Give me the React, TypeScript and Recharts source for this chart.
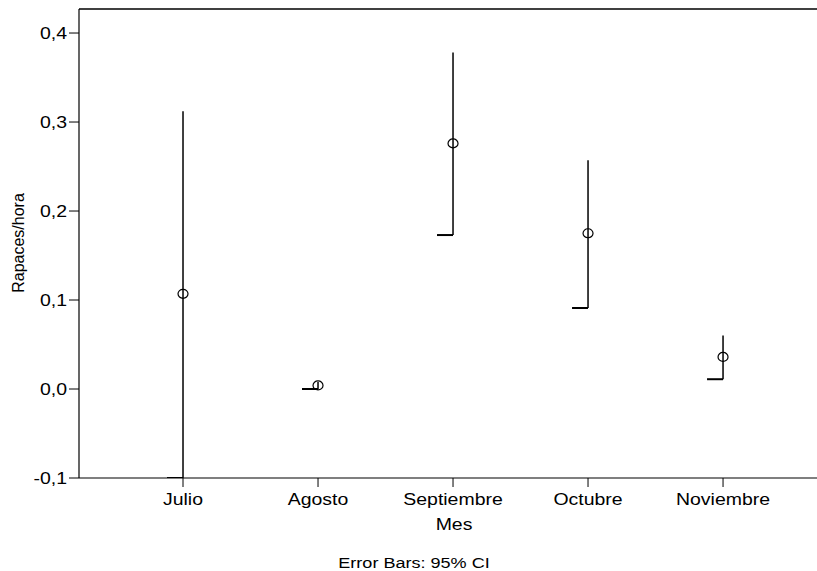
import { ScatterChart, Scatter, XAxis, YAxis, ErrorBar, Label } from 'recharts';

const months = ['Julio', 'Agosto', 'Septiembre', 'Octubre', 'Noviembre'];
const means = [0.107, 0.004, 0.276, 0.175, 0.036];
const lowers = [-0.1, 0.0, 0.173, 0.091, 0.011];
const uppers = [0.312, 0.008, 0.378, 0.257, 0.06];
const yTicks = [-0.1, 0, 0.1, 0.2, 0.3, 0.4];
const xTicks = [1, 2, 3, 4, 5];

const meanPts = months.map((_, i) => ({
  x: xTicks[i],
  y: means[i],
  err: [means[i] - lowers[i], uppers[i] - means[i]],
}));
const capPts = months.map((_, i) => ({ x: xTicks[i], y: lowers[i] }));

const W = 817;
const H = 571;
const FONT = '"Liberation Sans", Arial, sans-serif';
const SX = 1.18;
const X_DOMAIN = [0.2296, 5.696];
const fmt = (v: number) => v.toFixed(1).replace('.', ',');

const YTick = ({ x, y, payload }: any) => (
  <text transform={`translate(${x},${y}) scale(${SX},1)`} textAnchor="end" dy="0.355em"
    fontSize={16.5} fontFamily={FONT} fill="#000">
    {fmt(payload.value)}
  </text>
);

const XTick = ({ x, y, payload }: any) => (
  <text transform={`translate(${x},${y}) scale(${SX},1)`} textAnchor="middle" dy={18}
    fontSize={16.5} fontFamily={FONT} fill="#000">
    {months[payload.value - 1]}
  </text>
);

const MesLabel = ({ viewBox }: any) => (
  <text transform={`translate(${viewBox.x + 375},${viewBox.y + 52}) scale(${SX},1)`}
    textAnchor="middle" fontSize={16.5} fontFamily={FONT} fill="#000">
    Mes
  </text>
);

const FootLabel = ({ viewBox }: any) => (
  <text transform={`translate(${viewBox.x + 335},${viewBox.y + 90}) scale(${SX},1)`}
    textAnchor="middle" fontSize={15.3} fontFamily={FONT} fill="#000">
    Error Bars: 95% CI
  </text>
);

// y title, plus the top frame line of the plot box
const YLabel = ({ viewBox }: any) => (
  <g>
    <line x1={viewBox.x + viewBox.width} x2={W} y1={viewBox.y} y2={viewBox.y}
      stroke="#000" strokeWidth={1.5} />
    <text transform="translate(24,243) rotate(-90)" textAnchor="middle"
      fontSize={16} fontFamily={FONT} fill="#000">
      Rapaces/hora
    </text>
  </g>
);

const MeanDot = (p: any) => (
  <ellipse cx={p.cx} cy={p.cy} rx={5} ry={4.5} fill="none" stroke="#000" strokeWidth={1.2} />
);

const LowCap = (p: any) => (
  <line x1={p.cx - 16} x2={p.cx} y1={p.cy} y2={p.cy} stroke="#000" strokeWidth={2} />
);

export default function App() {
  return (
    <>
      <style>{'html,body{margin:0;overflow:hidden;}'}</style>
      <div style={{ position: 'fixed', left: 0, top: 0, width: W, height: H, overflow: 'hidden', background: '#fff' }}>
        <ScatterChart width={W} height={H} margin={{ top: 9, right: 0, bottom: 0, left: 0 }}>
          <XAxis type="number" dataKey="x" domain={X_DOMAIN} ticks={xTicks} allowDataOverflow
            height={93} tick={<XTick />} tickSize={9} tickMargin={0}
            stroke="#000" axisLine={{ stroke: '#000', strokeWidth: 1.2 }} tickLine={{ stroke: '#000' }}>
            <Label content={<MesLabel />} />
            <Label content={<FootLabel />} />
          </XAxis>
          <YAxis type="number" dataKey="y" domain={[-0.1, 0.427]} ticks={yTicks} allowDataOverflow
            width={79} tick={<YTick />} tickSize={10} tickMargin={2}
            stroke="#000" axisLine={{ stroke: '#000', strokeWidth: 1.2 }} tickLine={{ stroke: '#000' }}>
            <Label content={<YLabel />} />
          </YAxis>
          <Scatter data={capPts} shape={<LowCap />} isAnimationActive={false} />
          <Scatter data={meanPts} shape={<MeanDot />} isAnimationActive={false}>
            <ErrorBar dataKey="err" direction="y" width={0} stroke="#000" strokeWidth={1.5}
              isAnimationActive={false} />
          </Scatter>
        </ScatterChart>
      </div>
    </>
  );
}
